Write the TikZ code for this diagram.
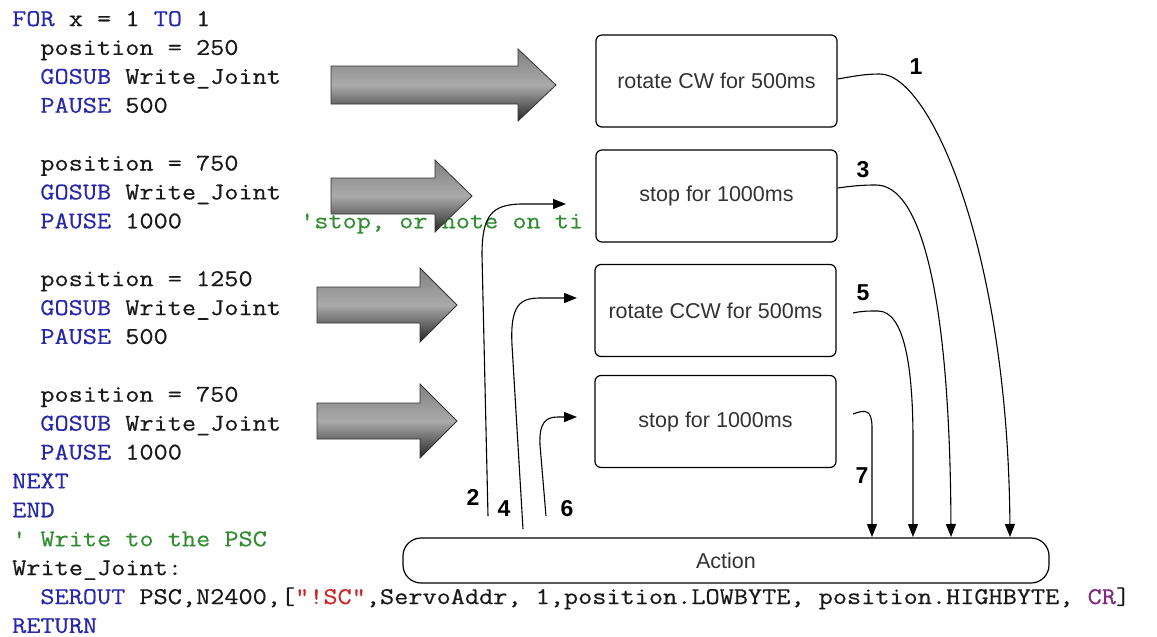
\documentclass[tikz,border=0pt]{standalone}
\usepackage{fontspec}
\setmainfont{Liberation Sans}
\setmonofont{Latin Modern Mono}[FakeStretch=1.145,FakeBold=0.5]
\usetikzlibrary{arrows.meta}
\definecolor{kw}{RGB}{40,40,170}
\definecolor{cm}{RGB}{50,140,50}
\definecolor{st}{RGB}{205,40,40}
\definecolor{pu}{RGB}{130,40,130}
\definecolor{txt}{RGB}{51,51,51}
% block arrow: x0, head start, tip, centre y, shaft half, head half
\newcommand\blockarr[6]{%
  \path[draw=black!80, line width=0.8pt, top color=black!50, bottom color=black!85, middle color=black!33]
    ({#1},{#4-#5}) -- ({#2},{#4-#5}) -- ({#2},{#4-#6}) -- ({#3},{#4}) --
    ({#2},{#4+#6}) -- ({#2},{#4+#5}) -- ({#1},{#4+#5}) -- cycle;}
\begin{document}
\begin{tikzpicture}[x=1pt,y=-1pt,
  code/.style={anchor=base west, inner sep=0pt, font=\ttfamily\fontsize{24}{28}\selectfont, text=black!90},
  box/.style={draw, line width=1.2pt, rounded corners=6pt, fill=white, minimum width=241pt,
    minimum height=92pt, inner sep=0pt, text=txt, font=\fontsize{21.5}{24}\selectfont},
  conn/.style={draw, line width=1.1pt, -{Triangle[length=13pt,width=10pt]}},
  lbl/.style={inner sep=0pt, font=\bfseries\fontsize{23}{23}\selectfont}]
\useasboundingbox (0,0) rectangle (1157,637);
\fill[white] (0,0) rectangle (1157,637);
% code listing
\node[code] (l0) at (12,26) {\textcolor{kw}{FOR} x = 1 \textcolor{kw}{TO} 1};
\node[code] (l1) at (40.2,54.9) {position = 250};
\node[code] (l2) at (40.2,83.8) {\textcolor{kw}{GOSUB} Write\_Joint};
\node[code] (l3) at (40.2,112.7) {\textcolor{kw}{PAUSE} 500};
\node[code] (l5) at (40.2,170.5) {position = 750};
\node[code] (l6) at (40.2,199.4) {\textcolor{kw}{GOSUB} Write\_Joint};
\node[code] (l7) at (40.2,228.3) {\textcolor{kw}{PAUSE} 1000};
\node[code, text=cm] (l7c) at (300,228.3) {'stop, or note on ti};
\node[code] (l9) at (40.2,286.1) {position = 1250};
\node[code] (l10) at (40.2,315) {\textcolor{kw}{GOSUB} Write\_Joint};
\node[code] (l11) at (40.2,343.9) {\textcolor{kw}{PAUSE} 500};
\node[code] (l13) at (40.2,401.7) {position = 750};
\node[code] (l14) at (40.2,430.6) {\textcolor{kw}{GOSUB} Write\_Joint};
\node[code] (l15) at (40.2,459.5) {\textcolor{kw}{PAUSE} 1000};
\node[code, text=kw] (l16) at (12,488.4) {NEXT};
\node[code, text=kw] (l17) at (12,517.3) {END};
\node[code, text=cm] (l18) at (12,546.2) {' Write to the PSC};
\node[code] (l19) at (12,575.1) {Write\_Joint:};
\node[code] (l20) at (40.2,604) {\textcolor{kw}{SEROUT} PSC,N2400,[\textcolor{st}{"!SC"},ServoAddr, 1,position.LOWBYTE, position.HIGHBYTE, \textcolor{pu}{CR}]};
\node[code, text=kw] (l21) at (12,632.9) {RETURN};
% block arrows
\blockarr{331}{518}{556}{85}{19}{36}
\blockarr{331}{435}{472}{196}{18}{36}
\blockarr{317}{420}{457}{305}{18}{37}
\blockarr{317}{420}{457}{421}{18}{37}
% boxes
\node[box] (b1) at (716.5,81) {rotate CW for 500ms};
\node[box] (b2) at (716.5,196) {stop for 1000ms};
\node[box] (b3) at (715.5,310.5) {rotate CCW for 500ms};
\node[box] (b4) at (715.5,421.5) {stop for 1000ms};
\node[box, minimum width=646pt, minimum height=45pt, rounded corners=18pt] (act) at (726,560.5) {Action};
% free ends
\coordinate (t1) at (1010,537);
\coordinate (t3) at (951,537);
\coordinate (t5) at (913,537);
\coordinate (t7) at (872,537);
\coordinate (s5) at (853,313);
\coordinate (s7) at (853,414);
\coordinate (s2) at (488,516);
\coordinate (s4) at (523,529);
\coordinate (s6) at (546,516);
\coordinate (e2) at (566,204);
\coordinate (e4) at (577,298);
\coordinate (e6) at (577,417);
% connectors to Action
\draw[conn] ([yshift=2pt]b1.east) .. controls (855,76) and (865,74) .. (880,74) .. controls (930,74) and (1008,250) .. (t1);
\draw[conn] ([yshift=8pt]b2.east) .. controls (852,186) and (862,185) .. (876,185) .. controls (922,185) and (950,300) .. (t3);
\draw[conn] (s5) .. controls (862,311) and (868,311) .. (878,311) .. controls (905,311) and (913,370) .. (913,440) -- (t5);
\draw[conn] (s7) .. controls (866,409) and (872,410) .. (872,428) -- (t7);
% connectors from Action
\draw[conn] (s2) -- (482,255) .. controls (482,215) and (492,205) .. (520,204) -- (e2);
\draw[conn] (s4) -- (512,345) .. controls (510,305) and (520,298) .. (540,298) -- (e4);
\draw[conn] (s6) -- (540,445) .. controls (539,422) and (546,417) .. (558,417) -- (e6);
% labels
\node[lbl] (n1) at (916,67) {1};
\node[lbl] (n3) at (863,170) {3};
\node[lbl] (n5) at (863,293) {5};
\node[lbl] (n7) at (862,476) {7};
\node[lbl] (n2) at (473,497) {2};
\node[lbl] (n4) at (504,509) {4};
\node[lbl] (n6) at (567,509) {6};
\end{tikzpicture}
\end{document}
